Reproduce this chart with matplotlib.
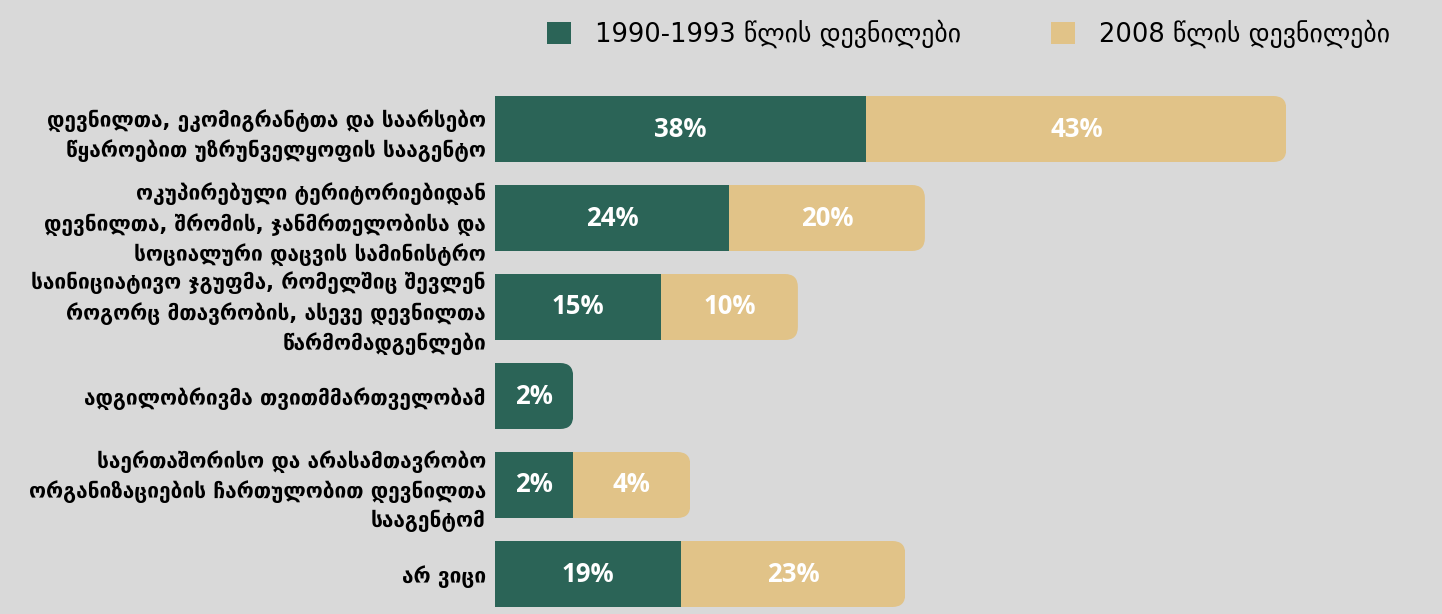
import numpy as np
import matplotlib.pyplot as plt
from matplotlib.patches import FancyBboxPatch

categories = [
    'დევნილთა, ეკომიგრანტთა და საარსებო\nწყაროებით უზრუნველყოფის სააგენტო',
    'ოკუპირებული ტერიტორიებიდან\nდევნილთა, შრომის, ჯანმრთელობისა და\nსოციალური დაცვის სამინისტრო',
    'საინიციატივო ჯგუფმა, რომელშიც შევლენ\nროგორც მთავრობის, ასევე დევნილთა\nწარმომადგენლები',
    'ადგილობრივმა თვითმმართველობამ',
    'საერთაშორისო და არასამთავრობო\nორგანიზაციების ჩართულობით დევნილთა\nსააგენტომ',
    'არ ვიცი',
]
series_names = ['1990-1993 წლის დევნილები', '2008 წლის დევნილები']

# percentages printed on the bars
pct_1990 = [38, 24, 15, 2, 2, 19]
pct_2008 = [43, 20, 10, 0, 4, 23]
# bar lengths as drawn in the picture (small shares are drawn wider)
len_1990 = [38, 24, 17, 8, 8, 19]
len_2008 = [43, 20, 14, 0, 12, 23]

GREEN = '#2b6457'
TAN = '#e1c388'
BG = '#d9d9d9'

W, H, DPI = 1442, 614, 100
fig = plt.figure(figsize=(W / DPI, H / DPI), dpi=DPI, facecolor=BG)
ax_left = 495 / W
ax = fig.add_axes([ax_left, 0, 1 - ax_left, 1])
ax.set_facecolor(BG)

x_max = (W - 495) / 9.77
row_px = 89
y_top = -129 / row_px
y_bot = (H - 129) / row_px
ax.set_xlim(0, x_max)
ax.set_ylim(y_bot, y_top)

# pixel scale of data units, for round corners
px_x = (W - 495) / x_max
px_y = H / (y_bot - y_top)
r_px = 13
r_x = r_px / px_x
aspect = px_x / px_y

y = np.arange(len(categories))
bar_h = 66 / row_px

b1 = ax.barh(y, len_1990, height=bar_h, color=GREEN, label=series_names[0])
b2 = ax.barh(y, len_2008, left=len_1990, height=bar_h, color=TAN, label=series_names[1])

# round the right end of the last segment of each row
for i in range(len(categories)):
    total = len_1990[i] + len_2008[i]
    last = b2[i] if len_2008[i] > 0 else b1[i]
    start = last.get_x()
    clip = FancyBboxPatch((start - 3 * r_x, y[i] - bar_h / 2), total - start + 3 * r_x, bar_h,
                          boxstyle=f'round,pad=0,rounding_size={r_x}',
                          mutation_aspect=aspect, transform=ax.transData)
    last.set_clip_path(clip)

for i in range(len(categories)):
    ax.text(len_1990[i] / 2, y[i], f'{pct_1990[i]}%', ha='center', va='center',
            color='white', fontsize=18.5, fontweight='bold', family='Open Sans')
    if pct_2008[i] > 0:
        ax.text(len_1990[i] + len_2008[i] / 2, y[i], f'{pct_2008[i]}%', ha='center', va='center',
                color='white', fontsize=18.5, fontweight='bold', family='Open Sans')

ax.set_yticks(y)
ax.set_yticklabels(categories, fontsize=15, fontweight='bold', family='DejaVu Sans',
                   linespacing=1.42)
ax.tick_params(axis='y', length=0, pad=6.5)
ax.set_xticks([])
for s in ax.spines.values():
    s.set_visible(False)

fig.legend(handles=[b1, b2], labels=series_names, ncol=2, loc='upper left',
           bbox_to_anchor=(547 / W, 1 - 20 / H), frameon=False, fontsize=18.5,
           handlelength=0.93, handleheight=0.93, handletextpad=0.93, columnspacing=3.5,
           borderpad=0, borderaxespad=0)

fig.savefig('out.png', dpi=DPI, facecolor=BG)
